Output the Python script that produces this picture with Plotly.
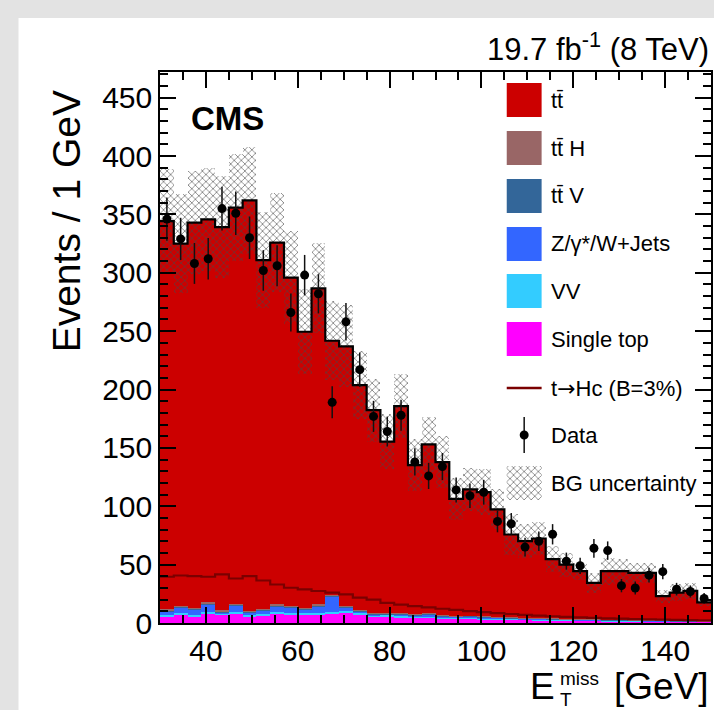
import numpy as np
import plotly.graph_objects as go

# ---- binning: 40 bins of 3 GeV between 30 and 150 GeV ----
met_lo, met_hi, bin_w = 30, 150, 3

# ---- background components per bin (events / bin) ----
ttbar = [332.7, 310.2, 329.7, 328.2, 328.3, 339.1, 351.7, 298.6, 309.7, 281.3,
         236.4, 270.7, 217.4, 222.6, 192.3, 173.8, 146.4, 177.1, 127.6, 144.7,
         131.0, 100.1, 108.0, 106.5, 91.9, 71.0, 65.6, 68.1, 50.7, 46.3,
         41.0, 31.3, 41.4, 41.6, 40.5, 40.7, 20.7, 24.0, 25.6, 16.0]
tth = [0.6, 0.7, 0.7, 0.7, 0.7, 0.7, 0.7, 0.7, 0.7, 0.6,
       0.6, 0.6, 0.6, 0.6, 0.6, 0.5, 0.5, 0.5, 0.5, 0.4,
       0.4, 0.4, 0.4, 0.4, 0.3, 0.3, 0.3, 0.3, 0.3, 0.3,
       0.2, 0.2, 0.2, 0.2, 0.2, 0.2, 0.2, 0.1, 0.1, 0.1]
ttv = [0.9, 1.0, 0.9, 1.0, 0.9, 1.0, 0.9, 0.9, 1.0, 0.9,
       0.9, 0.9, 0.8, 0.8, 0.8, 0.7, 0.7, 0.7, 0.6, 0.6,
       0.6, 0.5, 0.5, 0.5, 0.5, 0.4, 0.4, 0.4, 0.4, 0.3,
       0.3, 0.3, 0.3, 0.3, 0.2, 0.2, 0.2, 0.2, 0.2, 0.2]
zjets = [3.4, 4.1, 4.8, 6.5, 1.0, 5.2, 1.6, 2.8, 4.7, 4.2,
         3.2, 5.8, 13.4, 2.9, 1.5, 0.9, 0.8, 1.5, 1.0, 2.0,
         1.0, 0.8, 1.2, 0.7, 0.9, 0.6, 0.5, 0.6, 0.5, 0.4,
         0.5, 0.3, 0.4, 0.3, 0.3, 0.2, 0.3, 0.2, 0.2, 0.2]
diboson = [1.4, 1.6, 1.5, 1.8, 1.3, 1.7, 1.2, 1.5, 1.6, 1.5,
           1.4, 1.6, 1.5, 1.4, 1.3, 1.1, 1.0, 1.0, 0.9, 0.9,
           0.8, 0.8, 0.7, 0.7, 0.6, 0.6, 0.6, 0.5, 0.5, 0.5,
           0.4, 0.4, 0.4, 0.4, 0.3, 0.3, 0.3, 0.3, 0.3, 0.2]
single_top = [5.3, 7.3, 5.3, 7.6, 7.0, 8.1, 5.9, 6.4, 8.1, 7.3,
              7.0, 7.0, 8.1, 8.7, 7.3, 5.3, 5.9, 5.0, 4.6, 4.4,
              4.0, 3.8, 3.6, 3.3, 3.1, 2.9, 2.7, 2.5, 2.3, 2.2,
              2.0, 1.9, 1.7, 1.6, 1.5, 1.4, 1.3, 1.2, 1.1, 1.0]

# total background uncertainty per bin
bg_unc = [44.3, 42.3, 44.2, 44.3, 43.7, 45.7, 46.1, 41.1, 42.2, 39.9,
          36.3, 38.6, 33.9, 35.0, 29.1, 27.0, 23.4, 27.1, 22.0, 23.3,
          22.3, 18.0, 18.6, 19.4, 17.1, 17.2, 14.3, 14.0, 11.1, 10.2,
          7.2, 8.6, 11.5, 10.0, 8.6, 8.6, 5.7, 7.0, 7.0, 3.0]

# signal hypothesis t -> Hc with B = 3 %
signal = [39.6, 40.7, 40.1, 39.6, 41.6, 38.1, 40.1, 36.4, 33.0, 30.2,
          28.8, 27.4, 26.0, 24.6, 21.7, 20.1, 17.3, 15.8, 14.5, 13.3,
          12.2, 11.2, 10.2, 9.3, 8.5, 7.7, 7.0, 6.4, 5.8, 5.3,
          4.8, 4.4, 4.0, 3.7, 3.4, 3.1, 2.9, 2.7, 2.5, 2.3]

# observed events and their statistical uncertainties
data = [346, 329, 308, 312, 355, 351, 330, 302, 306, 266,
        298, 282, 189, 258, 217, 177, 164, 178, 138, 126,
        134, 114, 109, 112, 87, 85, 65, 70, 76, 53,
        49, 64, 62, 32, 30, 41, 44, 29, 27, 21]
data_err = [18.6, 18.1, 17.5, 17.7, 18.8, 18.7, 18.2, 17.4, 17.5, 16.3,
            17.3, 16.8, 13.7, 16.1, 14.7, 13.3, 12.8, 13.3, 11.7, 11.2,
            11.6, 10.7, 10.4, 10.6, 9.3, 9.2, 8.1, 8.4, 8.7, 7.3,
            7.0, 8.0, 7.9, 5.7, 5.5, 6.4, 6.6, 5.4, 5.2, 4.6]

x_ticks = [40, 60, 80, 100, 120, 140]
y_ticks = [0, 50, 100, 150, 200, 250, 300, 350, 400, 450]

edges = np.arange(met_lo, met_hi + bin_w, bin_w)
centers = 0.5 * (edges[:-1] + edges[1:])

# stacking order, bottom to top
stack = [
    ("Single top", single_top, "#ff00ff"),
    ("VV", diboson, "#33ccff"),
    ("Z/γ*/W+Jets", zjets, "#3366ff"),
    ("tt̄ V", ttv, "#336699"),
    ("tt̄ H", tth, "#996666"),
    ("tt̄", ttbar, "#cc0000"),
]

FONT = "Liberation Sans, Arial, Helvetica, sans-serif"
W, H = 714, 710
L, R, T, B = 160, 1, 72, 87
PW, PH = W - L - R, H - T - B


def fx(px):
    return (px - L) / PW


def fy(py):
    return (H - B - py) / PH


fig = go.Figure()

base = np.zeros(len(centers))
for name, vals, col in stack:
    vals = np.asarray(vals, dtype=float)
    fig.add_trace(go.Bar(
        x=centers, y=vals, base=base.copy(), width=bin_w, name=name,
        marker=dict(color=col, line=dict(width=0)), showlegend=False,
        hoverinfo="skip"))
    base = base + vals
total = base

unc = np.asarray(bg_unc)
hatch = dict(shape="x", fgcolor="rgba(70,70,70,0.7)", bgcolor="rgba(0,0,0,0)",
             size=5, solidity=0.3, fillmode="replace")
fig.add_trace(go.Bar(
    x=centers, y=2 * unc, base=total - unc, width=bin_w,
    marker=dict(color="rgba(0,0,0,0)", line=dict(width=0), pattern=hatch),
    showlegend=False, hoverinfo="skip"))

# outline of the summed background
fig.add_trace(go.Scatter(
    x=edges, y=np.append(total, total[-1]), mode="lines",
    line=dict(shape="hv", color="black", width=2.2), showlegend=False,
    hoverinfo="skip"))

# signal histogram
sig = np.asarray(signal)
fig.add_trace(go.Scatter(
    x=edges, y=np.append(sig, sig[-1]), mode="lines",
    line=dict(shape="hv", color="#7a0000", width=2.2), showlegend=False,
    hoverinfo="skip"))

# data points
fig.add_trace(go.Scatter(
    x=centers, y=data, mode="markers",
    marker=dict(size=9, color="black"),
    error_y=dict(type="data", array=data_err, width=0, thickness=1.5,
                 color="#111111"),
    showlegend=False))

# ---- legend drawn inside the frame ----
shapes = [
    dict(type="rect", xref="paper", yref="paper", x0=fx(18), x1=fx(W + 2),
         y0=fy(H + 2), y1=fy(18), fillcolor="white", line=dict(width=0),
         layer="below"),
]
annotations = []
row_y = [100, 148, 196, 244, 291, 339, 388, 435, 483]
sw_x0, sw_x1, txt_x = 508, 543, 550
for (name, _, col), yc in zip(stack[::-1], row_y[:6]):
    shapes.append(dict(type="rect", xref="paper", yref="paper",
                       x0=fx(sw_x0), x1=fx(sw_x1), y0=fy(yc + 17), y1=fy(yc - 17),
                       fillcolor=col, line=dict(width=0)))
    annotations.append(dict(text=name, x=fx(txt_x), y=fy(yc)))

shapes.append(dict(type="line", xref="paper", yref="paper",
                   x0=fx(sw_x0), x1=fx(sw_x1), y0=fy(row_y[6]), y1=fy(row_y[6]),
                   line=dict(color="#7a0000", width=2.5)))
annotations.append(dict(
    text="t<span style=\"font-family:'DejaVu Sans'\">→</span>Hc (B=3%)",
    x=fx(txt_x), y=fy(row_y[6])))

xm = 0.5 * (sw_x0 + sw_x1)
shapes.append(dict(type="line", xref="paper", yref="paper",
                   x0=fx(xm), x1=fx(xm), y0=fy(row_y[7] + 18), y1=fy(row_y[7] - 18),
                   line=dict(color="#111111", width=1.5)))
shapes.append(dict(type="circle", xref="paper", yref="paper",
                   x0=fx(xm - 4.5), x1=fx(xm + 4.5), y0=fy(row_y[7] + 4.5),
                   y1=fy(row_y[7] - 4.5), fillcolor="black", line=dict(width=0)))
annotations.append(dict(text="Data", x=fx(txt_x), y=fy(row_y[7])))

yb = row_y[8]
fig.add_trace(go.Scatter(
    x=[fx(sw_x0), fx(sw_x1), fx(sw_x1), fx(sw_x0), fx(sw_x0)],
    y=[fy(yb + 17), fy(yb + 17), fy(yb - 17), fy(yb - 17), fy(yb + 17)],
    xaxis="x2", yaxis="y2", mode="lines", fill="toself",
    fillcolor="rgba(0,0,0,0)", fillpattern=hatch, line=dict(width=0),
    showlegend=False, hoverinfo="skip"))
annotations.append(dict(text="BG uncertainty", x=fx(txt_x), y=fy(yb)))

for a in annotations:
    a.update(xref="paper", yref="paper", xanchor="left", yanchor="middle",
             showarrow=False, font=dict(family=FONT, size=22, color="black"))

# ---- labels ----
labels = [
    dict(text="<b>CMS</b>", x=fx(189), y=fy(118), xanchor="left", yanchor="middle",
         font=dict(family=FONT, size=33, color="black")),
    dict(text="19.7 fb<sup>-1</sup> (8 TeV)", x=fx(713), y=fy(47),
         xanchor="right", yanchor="middle",
         font=dict(family=FONT, size=31, color="black")),
    dict(text="Events / 1 GeV", textangle=-90, x=fx(66), y=fy(88),
         xanchor="center", yanchor="top",
         font=dict(family=FONT, size=39, color="black")),
    dict(text="[GeV]", x=fx(713), y=fy(686), xanchor="right", yanchor="middle",
         font=dict(family=FONT, size=37, color="black")),
    dict(text="E", x=fx(557), y=fy(686), xanchor="right", yanchor="middle",
         font=dict(family=FONT, size=37, color="black"), borderpad=0),
    dict(text="miss", x=fx(560), y=fy(678), xanchor="left", yanchor="middle",
         font=dict(family=FONT, size=19, color="black"), borderpad=0),
    dict(text="T", x=fx(560), y=fy(699), xanchor="left", yanchor="middle",
         font=dict(family=FONT, size=19, color="black"), borderpad=0),
]
for a in labels:
    a.update(xref="paper", yref="paper", showarrow=False)
annotations += labels

axis_common = dict(
    showline=True, linecolor="black", linewidth=1.5, mirror="ticks",
    ticks="inside", ticklen=16, tickwidth=1.5, tickcolor="black",
    showgrid=False, zeroline=False,
    tickfont=dict(family=FONT, size=30, color="black"),
)

fig.update_layout(
    width=W, height=H,
    margin=dict(l=L, r=R, t=T, b=B, pad=0),
    paper_bgcolor="#e3e3e3", plot_bgcolor="white",
    barmode="overlay", bargap=0,
    xaxis=dict(range=[met_lo, met_hi], tickmode="array", tickvals=x_ticks,
               minor=dict(dtick=5, tick0=0, ticks="inside", ticklen=8,
                          tickwidth=1.5, tickcolor="black"),
               **axis_common),
    yaxis=dict(range=[0, 472], tickmode="array", tickvals=y_ticks,
               minor=dict(dtick=10, tick0=0, ticks="inside", ticklen=8,
                          tickwidth=1.5, tickcolor="black"),
               **axis_common),
    xaxis2=dict(overlaying="x", range=[0, 1], visible=False),
    yaxis2=dict(overlaying="y", range=[0, 1], visible=False),
    shapes=shapes, annotations=annotations,
    showlegend=False,
)

fig.write_html("out.html")
